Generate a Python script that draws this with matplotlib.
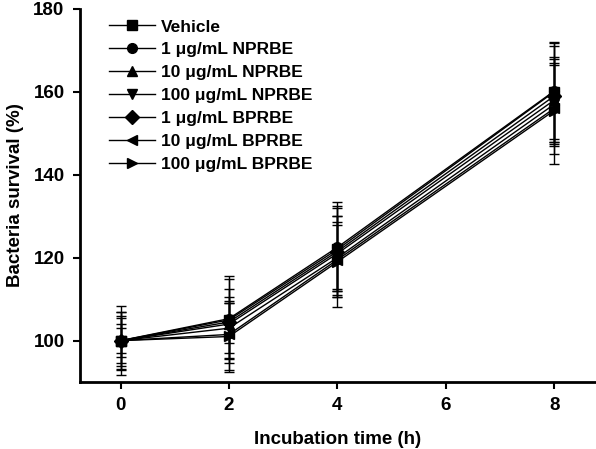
import matplotlib
matplotlib.use("Agg")
import matplotlib.pyplot as plt

plt.rcParams['font.family'] = ['Liberation Sans', 'DejaVu Sans']
plt.rcParams['font.weight'] = 'bold'

times = [0, 2, 4, 8]
labels = ['Vehicle', '1 \u03bcg/mL NPRBE', '10 \u03bcg/mL NPRBE', '100 \u03bcg/mL NPRBE',
          '1 \u03bcg/mL BPRBE', '10 \u03bcg/mL BPRBE', '100 \u03bcg/mL BPRBE']
markers = ['s', 'o', '^', 'v', 'D', '<', '>']

vehicle = [100, 105, 122, 160]
np_1 = [100, 105.3, 122.5, 160.2]
np_10 = [100, 104, 121, 158]
np_100 = [100, 103, 120, 157]
bp_1 = [100, 104.5, 121.5, 159]
bp_10 = [100, 101.5, 119.5, 156]
bp_100 = [100, 101, 119, 155.5]

vehicle_err = [8.3, 10.5, 11.5, 12]
np_1_err = [7, 9.5, 10, 11.5]
np_10_err = [5.5, 8.5, 9, 10]
np_100_err = [4, 6, 8, 9.5]
bp_1_err = [3, 5, 10.5, 12]
bp_10_err = [6, 9, 9, 11]
bp_100_err = [6.8, 8, 11, 13]

series = [vehicle, np_1, np_10, np_100, bp_1, bp_10, bp_100]
errors = [vehicle_err, np_1_err, np_10_err, np_100_err, bp_1_err, bp_10_err, bp_100_err]

fig = plt.figure(figsize=(5.96, 4.49), dpi=100)
ax = fig.add_axes([0.134, 0.149, 0.864, 0.831])

for vals, err, lab, m in zip(series, errors, labels, markers):
    ax.errorbar(times, vals, yerr=err, color='black', marker=m, markersize=7,
                linewidth=1, elinewidth=1, capsize=3.5, capthick=1, label=lab)

ax.set_xlim(-0.75, 8.75)
ax.set_ylim(90, 180)
ax.set_xticks([0, 2, 4, 6, 8])
ax.set_yticks([100, 120, 140, 160, 180])
ax.spines['top'].set_visible(False)
ax.spines['right'].set_visible(False)
for s in ['left', 'bottom']:
    ax.spines[s].set_linewidth(2)
ax.tick_params(direction='out', length=5, width=1.5, labelsize=13.5, pad=6)
for t in ax.get_xticklabels() + ax.get_yticklabels():
    t.set_fontweight('bold')

ax.set_xlabel('Incubation time (h)', fontsize=13.5, fontweight='bold', labelpad=12)
ax.set_ylabel('Bacteria survival (%)', fontsize=13.5, fontweight='bold', labelpad=7)

handles, labs = ax.get_legend_handles_labels()
handles = [h[0] for h in handles]
ax.legend(handles, labs, loc='upper left', bbox_to_anchor=(0.027, 1.014), frameon=False,
          handlelength=2.65, handletextpad=0.3, labelspacing=0.45,
          prop={'weight': 'bold', 'size': 12.5})

fig.savefig('out.png', dpi=100)
